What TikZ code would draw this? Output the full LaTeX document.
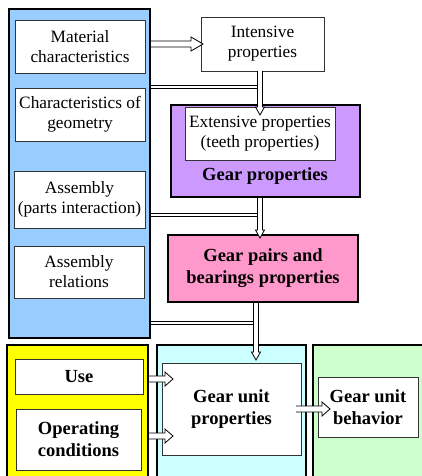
\documentclass[tikz,border=0pt]{standalone}
\usepackage{fontspec}
\setmainfont{Liberation Serif}
\usetikzlibrary{calc}

\definecolor{skyblue}{HTML}{99CCFF}
\definecolor{lilac}{HTML}{CC99FF}
\definecolor{rose}{HTML}{FF99CC}
\definecolor{lemon}{HTML}{FFFF00}
\definecolor{aqua}{HTML}{CCFFFF}
\definecolor{mint}{HTML}{CCFFCC}

\newcommand{\regfont}{\fontsize{17.3}{20}\selectfont}
\newcommand{\boldfont}{\fontsize{18.5}{22}\selectfont\bfseries}

% hollow block arrows: start point, tip
\newcommand{\hollowright}[3][9]{%
  \draw[arrowbody] ($(#2)+(0,-3)$) -- ($(#3)+(-#1,-3)$) -- ($(#3)+(-#1,-7)$) -- (#3)
    -- ($(#3)+(-#1,7)$) -- ($(#3)+(-#1,3)$) -- ($(#2)+(0,3)$);}
\newcommand{\hollowdown}[2]{%
  \draw[arrowbody] ($(#1)+(-2.5,0)$) -- ($(#2)+(-2.5,-8)$) -- ($(#2)+(-4.5,-8)$) -- (#2)
    -- ($(#2)+(4.5,-8)$) -- ($(#2)+(2.5,-8)$) -- ($(#1)+(2.5,0)$);}

\tikzset{
  panel/.style={draw, line width=2.4pt, inner sep=0pt, outer sep=0pt, align=center},
  cell/.style={draw=black!80, line width=0.9pt, fill=white, align=center,
    inner sep=0pt, outer sep=0pt, font=\regfont},
  bcell/.style={cell, font=\boldfont},
  link/.style={draw, line width=0.8pt, double=white, double distance=2.6pt, shorten <=1.2pt},
  arrowbody/.style={draw, fill=white, line width=0.8pt, line join=miter}
}

\begin{document}
\begin{tikzpicture}[x=1pt,y=-1pt]
  %frame
  \useasboundingbox (0,0) rectangle (422,476);
  \clip (0,0) rectangle (422,476);
  %panels
  \node[panel, fill=skyblue, minimum width=141pt, minimum height=329pt] (blue) at (79.5,173.5) {};
  \node[panel, fill=lilac, minimum width=189pt, minimum height=92pt] (gear) at (265.5,151) {};
  \node[panel, fill=rose, minimum width=190pt, minimum height=67pt, font=\boldfont] (pairs) at (263,268.5) {Gear pairs and\\bearings properties};
  \node[panel, fill=lemon, minimum width=141pt, minimum height=160pt] (yellow) at (77.5,425) {};
  \node[panel, fill=aqua, minimum width=149pt, minimum height=160pt] (cyan) at (231.5,425) {};
  \node[panel, fill=mint, minimum width=130pt, minimum height=160pt] (green) at (378,425) {};
  %boxes
  \node[cell, minimum width=130pt, minimum height=53pt] (mat) at (80,46.5) {Material\\characteristics};
  \node[cell, minimum width=130pt, minimum height=53pt] (geo) at (80,114.5) {Characteristics of\\geometry};
  \node[cell, minimum width=131pt, minimum height=57pt] (asm) at (79.5,199.5) {Assembly\\(parts interaction)};
  \node[cell, minimum width=130pt, minimum height=52pt] (rel) at (79,272) {Assembly\\relations};
  \node[cell, minimum width=123pt, minimum height=54pt] (int) at (262.5,44) {Intensive\\properties};
  \node[cell, minimum width=150pt, minimum height=53pt] (ext) at (260,133.5) {Extensive properties\\(teeth properties)};
  \node[font=\boldfont] (gearlbl) at (265,176) {Gear properties};
  \node[bcell, minimum width=128pt, minimum height=35pt] (use) at (79,376.5) {Use};
  \node[bcell, minimum width=125pt, minimum height=61pt] (oper) at (78.5,439.5) {Operating\\conditions};
  \node[bcell, minimum width=139pt, minimum height=92pt] (unit) at (231.5,409) {Gear unit\\properties};
  \node[bcell, minimum width=100pt, minimum height=60pt] (behav) at (368,407) {Gear unit\\behavior};
  %tips and joints
  \coordinate (t1) at (203,44);
  \coordinate (t2) at (260,115);
  \coordinate (t3) at (260,238);
  \coordinate (t4) at (256,360);
  \coordinate (t5) at (173,379);
  \coordinate (t6) at (173,436);
  \coordinate (t7) at (330,409);
  \coordinate (j1) at (257.5,87);
  \coordinate (j2) at (257.5,215);
  \coordinate (j3) at (253.5,323);
  %links
  \draw[link] (j1 -| blue.east) -- (j1);
  \draw[link] (j2 -| blue.east) -- (j2);
  \draw[link] (j3 -| blue.east) -- (j3);
  %arrows
  \hollowright[12]{$(t1 -| blue.east)+(1.2,0)$}{t1}
  \hollowdown{t2 |- int.south}{t2}
  \hollowdown{$(t3 |- gear.south)+(0,1.2)$}{t3}
  \hollowdown{$(t4 |- pairs.south)+(0,1.2)$}{t4}
  \hollowright[8]{$(t5 -| yellow.east)+(1.2,0)$}{t5}
  \hollowright[8]{$(t6 -| yellow.east)+(1.2,0)$}{t6}
  \hollowright[8]{$(t7 -| unit.east)+(-5,0)$}{t7}
\end{tikzpicture}
\end{document}
